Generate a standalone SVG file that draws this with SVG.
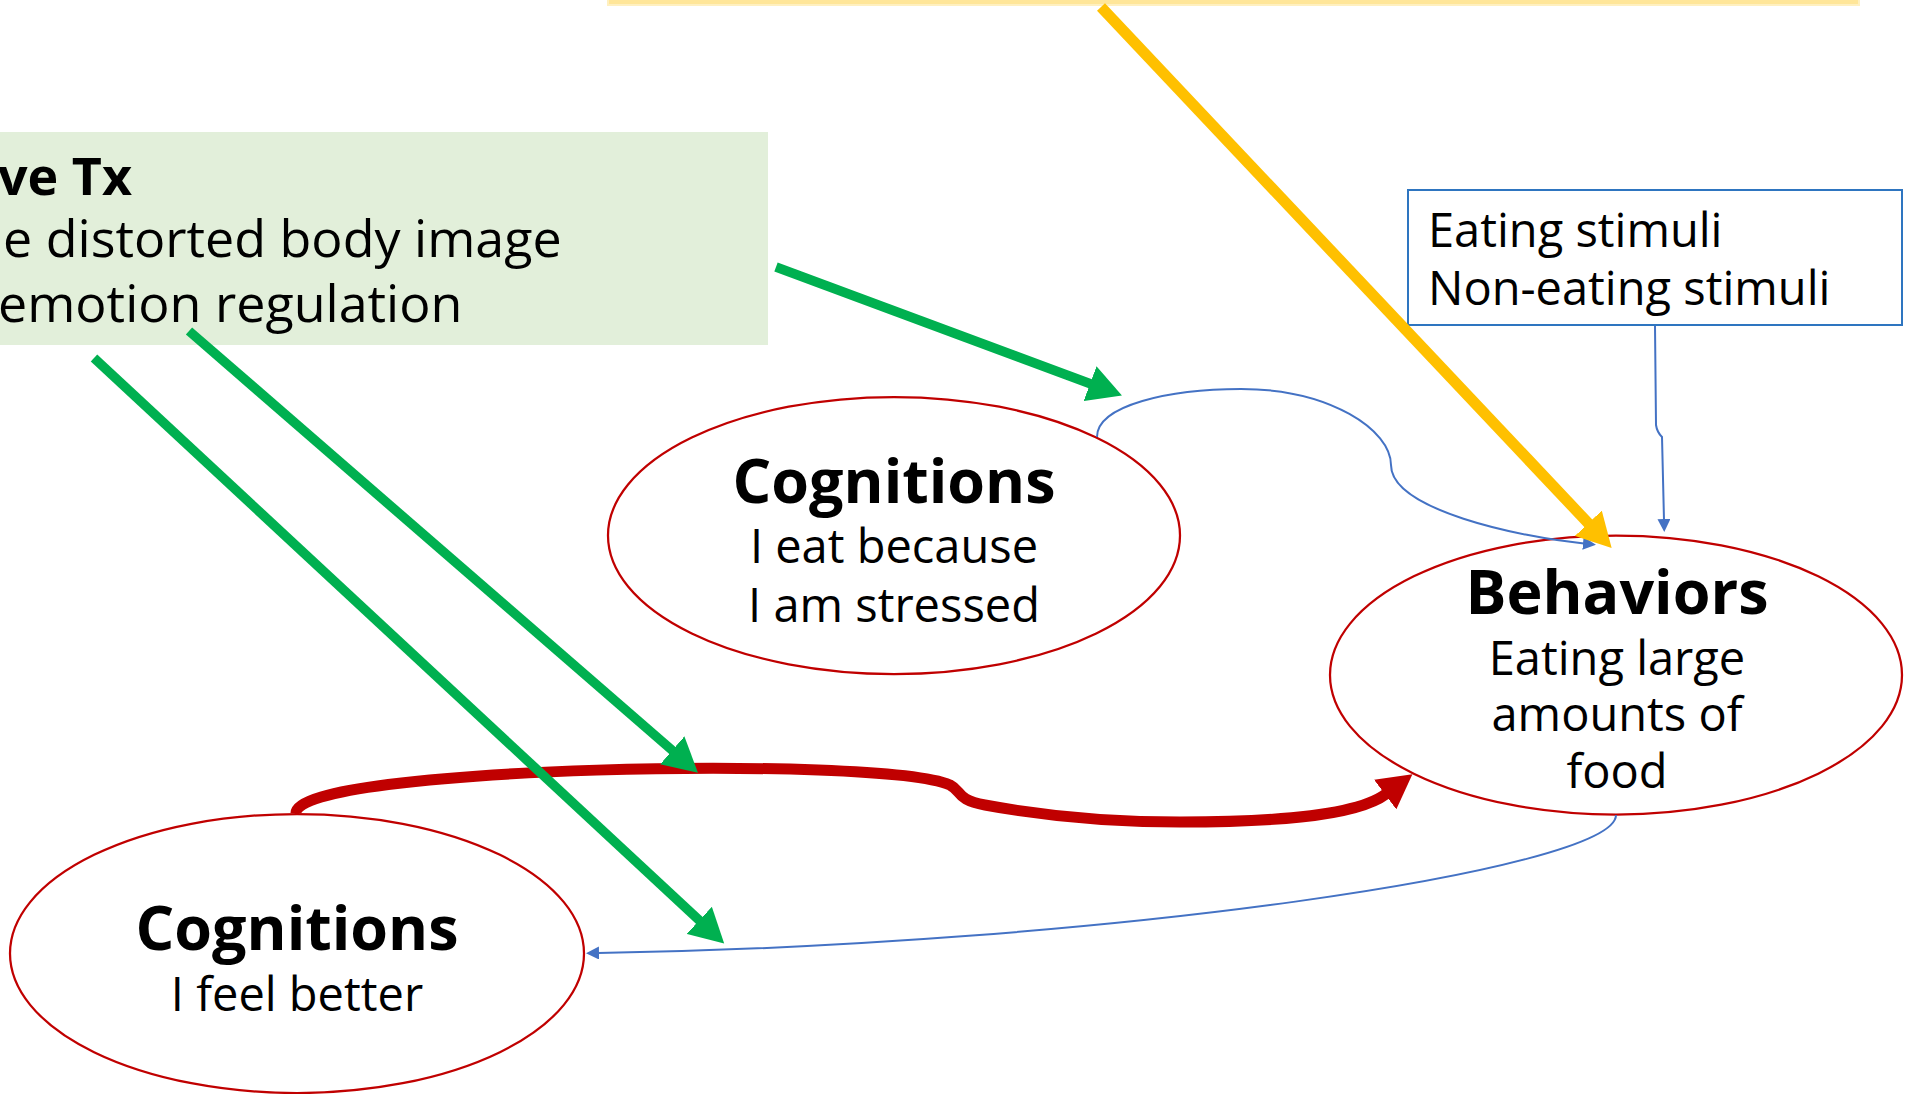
<svg xmlns="http://www.w3.org/2000/svg" width="1908" height="1094" viewBox="0 0 1908 1094">
<style>
.node{fill:#FFFFFF;stroke:#C00000;stroke-width:2.25}
.t{font-family:"Open Sans","Noto Sans",sans-serif;fill:#000}
.title{font-weight:bold;font-size:61px;text-anchor:middle}
.sub{font-size:47px;text-anchor:middle}
.gb{font-size:52px}
.conn{fill:none}
</style>
<defs>
<marker id="mY" markerUnits="userSpaceOnUse" markerWidth="35" markerHeight="37" viewBox="0 0 35 37" refX="1" refY="18.5" orient="auto"><path d="M0,0 L34,18.5 L0,37 z" fill="#FFC000"/></marker>
<marker id="mG" markerUnits="userSpaceOnUse" markerWidth="35" markerHeight="37" viewBox="0 0 35 37" refX="1" refY="18.5" orient="auto"><path d="M0,0 L34,18.5 L0,37 z" fill="#00B050"/></marker>
<marker id="mR" markerUnits="userSpaceOnUse" markerWidth="35" markerHeight="37" viewBox="0 0 35 37" refX="1" refY="18.5" orient="auto"><path d="M0,0 L34,18.5 L0,37 z" fill="#C00000"/></marker>
<marker id="mB" markerUnits="userSpaceOnUse" markerWidth="14" markerHeight="13" viewBox="0 0 14 13" refX="1" refY="6.5" orient="auto"><path d="M0,0 L13,6.5 L0,13 z" fill="#4472C4"/></marker>
</defs>
<rect width="1908" height="1094" fill="#FFFFFF"/>

<g id="yellow-box">
<rect x="608" y="-20" width="1251" height="25" fill="#FFE699" stroke="#FFF0C0" stroke-width="2"/>
</g>

<g id="green-box">
<rect x="0" y="132" width="768" height="213" fill="#E2EFDA"/>
<text class="t gb" x="-2" y="195" font-weight="bold">ve Tx</text>
<text class="t gb" x="3" y="257">e distorted body image</text>
<text class="t gb" x="-2" y="322">emotion regulation</text>
</g>

<g id="stimuli-box">
<rect x="1408" y="190" width="494" height="135" fill="#FFFFFF" stroke="#2E75C0" stroke-width="2"/>
<text class="t" x="1428" y="247" font-size="47">Eating stimuli</text>
<text class="t" x="1428" y="305" font-size="47">Non-eating stimuli</text>
</g>

<g id="cognitions-top">
<ellipse class="node" cx="894" cy="535.5" rx="286" ry="138.5"/>
<text class="t title" x="894" y="503">Cognitions</text>
<text class="t sub" x="894" y="563">I eat because</text>
<text class="t sub" x="894" y="622">I am stressed</text>
</g>

<g id="behaviors">
<ellipse class="node" cx="1616" cy="675" rx="286" ry="139.5"/>
<text class="t title" x="1617" y="614" font-size="60">Behaviors</text>
<text class="t sub" x="1617" y="675">Eating large</text>
<text class="t sub" x="1617" y="731">amounts of</text>
<text class="t sub" x="1617" y="788">food</text>
</g>

<g id="cognitions-bottom">
<ellipse class="node" cx="297" cy="953.5" rx="287" ry="139.5"/>
<text class="t title" x="297" y="950">Cognitions</text>
<text class="t sub" x="297" y="1011">I feel better</text>
</g>

<g id="connectors">
<path class="conn" d="M1097,437 C1097,405 1170,389 1241,389 C1330,389 1391,430 1391,465 C1391,510 1520,537 1584,543.5" stroke="#4472C4" stroke-width="2" marker-end="url(#mB)"/>
<path class="conn" d="M1655,326 L1656,425 Q1657,432 1662,437 L1664,520" stroke="#4472C4" stroke-width="2" marker-end="url(#mB)"/>
<path class="conn" d="M1616,815 C1616,870 1100,945 598,953" stroke="#4472C4" stroke-width="2" marker-end="url(#mB)"/>
<path class="conn" d="M296,813 C296,766 880,755 950,785 C962,791 956,800 985,805 C1050,817 1120,822 1180,822 C1260,822 1354,818 1386,794" stroke="#C00000" stroke-width="11" marker-end="url(#mR)"/>
<path class="conn" d="M776,267 L1091,384" stroke="#00B050" stroke-width="9.5" marker-end="url(#mG)"/>
<path class="conn" d="M189,331 L673,751" stroke="#00B050" stroke-width="9.5" marker-end="url(#mG)"/>
<path class="conn" d="M94,358 L700,921" stroke="#00B050" stroke-width="9.5" marker-end="url(#mG)"/>
<path class="conn" d="M1101,7 L1589,524" stroke="#FFC000" stroke-width="11" marker-end="url(#mY)"/>
</g>
</svg>
